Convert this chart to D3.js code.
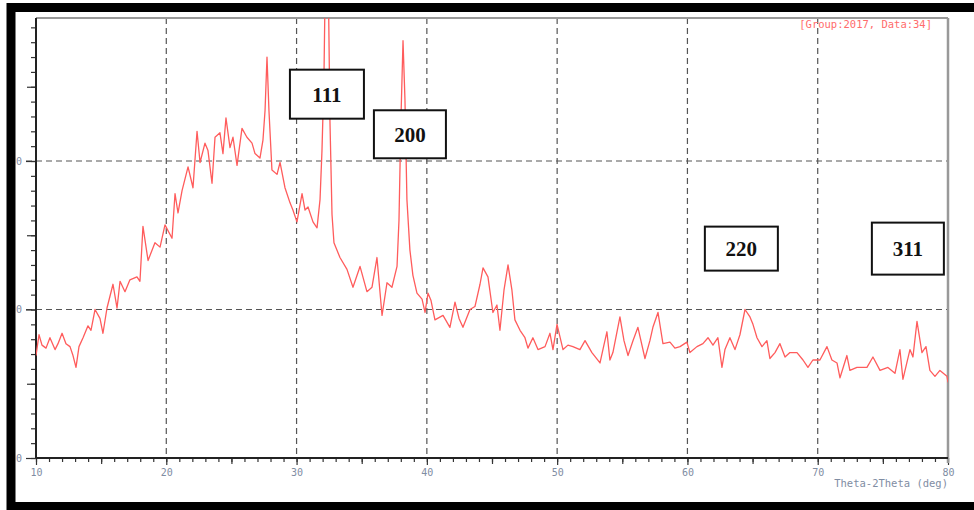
<!DOCTYPE html>
<html>
<head>
<meta charset="utf-8">
<title>XRD pattern</title>
<script src="https://cdn.jsdelivr.net/npm/d3@7"></script>
<style>
  body { margin: 0; background: #fff; }
</style>
</head>
<body>
<script>
// 2-theta (deg) and intensity (counts)
var twoTheta = [
  10.00, 10.23, 10.46, 10.77, 11.07, 11.46, 11.69, 12.00, 12.30, 12.61, 12.84, 13.07, 13.30, 13.61, 13.99,
  14.22, 14.53, 14.91, 15.14, 15.45, 15.91, 16.22, 16.45, 16.83, 17.21, 17.75, 17.98, 18.21, 18.60, 19.13,
  19.52, 19.90, 20.44, 20.67, 20.90, 21.21, 21.67, 22.05, 22.36, 22.59, 22.97, 23.20, 23.51, 23.74, 24.12,
  24.35, 24.58, 24.89, 25.12, 25.43, 25.81, 26.19, 26.58, 26.81, 27.19, 27.42, 27.58, 27.73, 27.88, 28.11,
  28.50, 28.73, 29.11, 29.49, 29.72, 30.03, 30.42, 30.65, 30.88, 31.26, 31.57, 31.80, 31.95, 32.10, 32.26,
  32.41, 32.56, 32.72, 32.87, 33.33, 33.87, 34.33, 34.87, 35.40, 35.79, 36.17, 36.56, 36.94, 37.32, 37.71,
  37.86, 38.01, 38.17, 38.32, 38.47, 38.70, 38.93, 39.24, 39.63, 39.86, 40.09, 40.32, 40.62, 41.24, 41.77,
  42.16, 42.47, 42.77, 43.31, 43.69, 44.08, 44.31, 44.69, 45.07, 45.38, 45.61, 45.92, 46.23, 46.53, 46.76,
  47.15, 47.53, 47.76, 48.14, 48.53, 49.07, 49.45, 49.68, 49.99, 50.45, 50.83, 51.21, 51.75, 52.14, 52.67,
  53.29, 53.59, 53.82, 54.05, 54.28, 54.82, 55.13, 55.44, 55.82, 56.20, 56.74, 57.12, 57.35, 57.74, 58.12,
  58.66, 59.04, 59.43, 59.96, 60.19, 60.73, 61.19, 61.58, 61.96, 62.34, 62.65, 62.88, 63.26, 63.65, 64.03,
  64.42, 64.80, 65.03, 65.34, 65.72, 66.10, 66.33, 66.72, 67.10, 67.49, 67.87, 68.41, 68.87, 69.25, 69.63,
  70.17, 70.71, 71.09, 71.48, 71.71, 72.24, 72.47, 73.01, 73.78, 74.24, 74.78, 75.39, 75.93, 76.31, 76.54,
  77.08, 77.31, 77.62, 78.00, 78.31, 78.61, 79.00, 79.38, 79.92, 80.00
];
var intensity = [
  690, 830, 760, 740, 810, 730, 770, 840, 770, 750, 690, 610, 750, 810, 890,
  860, 1000, 940, 840, 1010, 1170, 1010, 1190, 1120, 1200, 1220, 1190, 1560, 1330, 1450,
  1420, 1570, 1480, 1780, 1650, 1800, 1960, 1820, 2200, 1990, 2120, 2070, 1850, 2160, 2190,
  2050, 2290, 2090, 2160, 1970, 2220, 2160, 2120, 2050, 2020, 2140, 2340, 2700, 2340, 1940,
  1910, 1990, 1820, 1720, 1670, 1590, 1780, 1670, 1690, 1590, 1550, 1740, 2070, 2550, 3600,
  3400, 2280, 1640, 1450, 1350, 1270, 1150, 1290, 1120, 1150, 1350, 960, 1180, 1150, 1290,
  1600, 2280, 2810, 2410, 1740, 1400, 1230, 1110, 1070, 980, 1110, 1060, 930, 960, 880,
  1050, 940, 880, 1000, 1020, 1170, 1280, 1220, 980, 1030, 860, 1130, 1300, 1130, 930,
  860, 810, 740, 810, 730, 750, 840, 730, 900, 730, 760, 750, 730, 790, 710,
  640, 760, 850, 660, 710, 950, 790, 690, 790, 880, 670, 790, 880, 980, 770,
  780, 740, 750, 780, 710, 750, 770, 810, 760, 810, 610, 730, 810, 730, 830,
  1000, 950, 900, 810, 750, 790, 670, 710, 770, 680, 710, 710, 660, 610, 660,
  660, 750, 660, 640, 540, 690, 590, 610, 610, 680, 590, 610, 570, 730, 530,
  730, 680, 920, 710, 750, 590, 550, 590, 550, 510
];

var xTicks = [10, 20, 30, 40, 50, 60, 70, 80];
var yTicks = [0, 1000, 2000];
var yTickLabels = ["0", "0", "0"];

var peakLabels = ["111", "200", "220", "311"];
var peakAt = [32.33, 38.70, 64.14, 76.92];      // box centre, deg
var peakLevel = [2450, 2180, 1410, 1410];       // box centre, counts

var note = "[Group:2017, Data:34]";
var xTitle = "Theta-2Theta (deg)";

var w = 974, h = 510;
var pL = 36, pR = 948, pT = 18, pB = 458;   // plot box
var boxW = [74, 72, 73, 72], boxH = [49, 48, 44, 52];

var svg = d3.select("body").append("svg")
  .attr("width", w)
  .attr("height", h);

var x = d3.scaleLinear().domain([10, 80]).range([pL, pR]);
var y = d3.scaleLinear().domain([0, 2963]).range([pB, pT]);

var tickFont = "DejaVu Sans Mono, monospace";
var tickColor = "#7f8da3";

// grid
svg.append("g").selectAll("line")
  .data(xTicks.slice(1, -1))
  .enter().append("line")
    .attr("x1", function(d) { return x(d); })
    .attr("x2", function(d) { return x(d); })
    .attr("y1", pT).attr("y2", pB)
    .attr("stroke", "#555").attr("stroke-width", 1.2)
    .attr("stroke-dasharray", "6,4");

svg.append("g").selectAll("line")
  .data(yTicks.slice(1))
  .enter().append("line")
    .attr("x1", pL - 10).attr("x2", pR)
    .attr("y1", function(d) { return y(d); })
    .attr("y2", function(d) { return y(d); })
    .attr("stroke", "#555").attr("stroke-width", 1.2)
    .attr("stroke-dasharray", "6,4");

// ticks
function plain(g) {
  g.select(".domain").remove();
  g.selectAll(".tick line").attr("stroke", "#333").attr("stroke-width", 1.2);
}

svg.append("g").attr("transform", "translate(0," + pB + ")")
  .call(d3.axisBottom(x).tickValues(d3.range(10, 81, 1)).tickSize(4).tickFormat(""))
  .call(plain);
svg.append("g").attr("transform", "translate(0," + pB + ")")
  .call(d3.axisBottom(x).tickValues(d3.range(15, 80, 10)).tickSize(6).tickFormat(""))
  .call(plain);
var xAx = svg.append("g").attr("transform", "translate(0," + pB + ")")
  .call(d3.axisBottom(x).tickValues(xTicks).tickSize(7).tickPadding(4))
  .call(plain);
xAx.selectAll("text")
  .attr("font-family", tickFont).attr("font-size", 10).attr("fill", tickColor);

svg.append("g").attr("transform", "translate(" + pL + ",0)")
  .call(d3.axisLeft(y).tickValues(d3.range(0, 2963, 100)).tickSize(5).tickFormat(""))
  .call(plain);
svg.append("g").attr("transform", "translate(" + pL + ",0)")
  .call(d3.axisLeft(y).tickValues(d3.range(500, 2963, 1000)).tickSize(9).tickFormat(""))
  .call(plain);
var yAx = svg.append("g").attr("transform", "translate(" + pL + ",0)")
  .call(d3.axisLeft(y).tickValues(yTicks).tickSize(10).tickPadding(4)
    .tickFormat(function(d, i) { return yTickLabels[i]; }))
  .call(plain);
yAx.selectAll("text")
  .attr("font-family", tickFont).attr("font-size", 10).attr("fill", tickColor);

// frame of the plot
svg.append("line").attr("x1", pL).attr("x2", pR).attr("y1", pT).attr("y2", pT)
  .attr("stroke", "#999").attr("stroke-width", 2);
svg.append("line").attr("x1", pR).attr("x2", pR).attr("y1", pT).attr("y2", pB + 5)
  .attr("stroke", "#999").attr("stroke-width", 2.5);
svg.append("line").attr("x1", pL).attr("x2", pL).attr("y1", pT).attr("y2", pB)
  .attr("stroke", "#222").attr("stroke-width", 2);
svg.append("line").attr("x1", pL).attr("x2", pR).attr("y1", pB).attr("y2", pB)
  .attr("stroke", "#222").attr("stroke-width", 2);

// trace
svg.append("clipPath").attr("id", "plot")
  .append("rect").attr("x", pL).attr("y", pT)
  .attr("width", pR - pL).attr("height", pB - pT);

var line = d3.line()
  .x(function(d, i) { return x(twoTheta[i]); })
  .y(function(d) { return y(d); });

svg.append("path")
  .datum(intensity)
  .attr("clip-path", "url(#plot)")
  .attr("d", line)
  .attr("fill", "none")
  .attr("stroke", "#ff5c5c")
  .attr("stroke-width", 1.3)
  .attr("stroke-linejoin", "round");

// texts
svg.append("text")
  .attr("x", 932).attr("y", 28)
  .attr("text-anchor", "end")
  .attr("font-family", tickFont).attr("font-size", 10.5)
  .attr("fill", "#ff6b6b")
  .text(note);

svg.append("text")
  .attr("x", 948).attr("y", 487)
  .attr("text-anchor", "end")
  .attr("font-family", tickFont).attr("font-size", 10.5)
  .attr("fill", tickColor)
  .text(xTitle);

// peak boxes
var boxes = svg.append("g").selectAll("g")
  .data(peakLabels)
  .enter().append("g")
    .attr("transform", function(d, i) {
      return "translate(" + x(peakAt[i]) + "," + y(peakLevel[i]) + ")";
    });

boxes.append("rect")
  .attr("x", function(d, i) { return -boxW[i] / 2; })
  .attr("y", function(d, i) { return -boxH[i] / 2; })
  .attr("width", function(d, i) { return boxW[i]; })
  .attr("height", function(d, i) { return boxH[i]; })
  .attr("fill", "#fff")
  .attr("stroke", "#111")
  .attr("stroke-width", 2);

boxes.append("text")
  .attr("text-anchor", "middle")
  .attr("dy", "0.35em")
  .attr("font-family", "Liberation Serif, Times New Roman, serif")
  .attr("font-weight", "bold")
  .attr("font-size", 21)
  .attr("fill", "#111")
  .text(function(d) { return d; });

// outer black border
svg.append("rect")
  .attr("x", 11).attr("y", 7.5)
  .attr("width", 985).attr("height", 499)
  .attr("fill", "none")
  .attr("stroke", "#000")
  .attr("stroke-width", 9);
</script>
</body>
</html>
